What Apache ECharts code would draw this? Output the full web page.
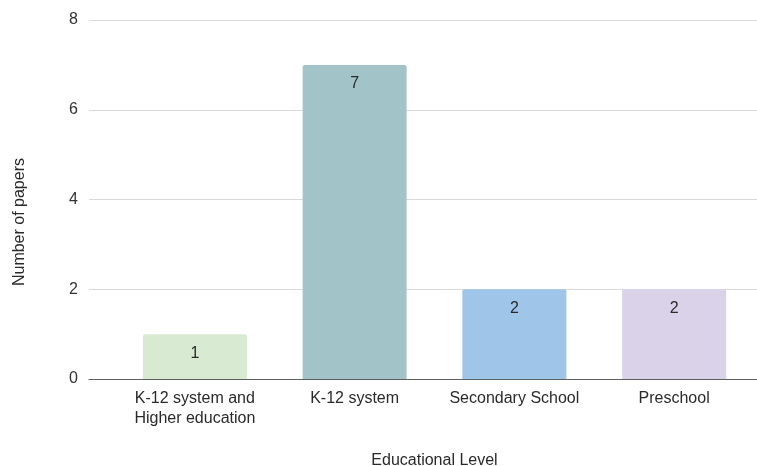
<!DOCTYPE html>
<html>
<head>
<meta charset="utf-8" />
<title>Educational Level</title>
<script src="https://cdn.jsdelivr.net/npm/echarts@6/dist/echarts.min.js"></script>
<style>
  html, body { margin: 0; padding: 0; background: #fff; }
  #main { width: 757px; height: 466px; }
</style>
</head>
<body>
<div id="main"></div>
<script>
var categories = ['K-12 system and\nHigher education', 'K-12 system', 'Secondary School', 'Preschool'];
var papers = [1, 7, 2, 2];
var barColors = ['#d9ead3', '#a2c4c9', '#9fc5e8', '#d9d2e9'];
var yTicks = [0, 2, 4, 6, 8];

var chart = echarts.init(document.getElementById('main'));
var font = '"Liberation Sans", Arial, sans-serif';

var option = {
    animation: false,
    textStyle: { fontFamily: font },
    grid: [
        // background grid: y labels + gridlines across the full width
        { left: 89, right: 0, top: 20, bottom: 87, outerBoundsMode: 'none', containLabel: false },
        // bars
        { left: 115, right: 3, top: 20, bottom: 87, outerBoundsMode: 'none', containLabel: false }
    ],
    xAxis: [
        {
            gridIndex: 0, type: 'value', min: 0, max: 1,
            axisLine: { show: true, onZero: false, lineStyle: { color: '#5f5f5f', width: 1 } },
            axisTick: { show: false }, axisLabel: { show: false }, splitLine: { show: false }
        },
        {
            gridIndex: 1, type: 'category', data: categories,
            axisLine: { show: false }, axisTick: { show: false },
            axisLabel: { color: '#2a2a2a', fontSize: 16, margin: 10, lineHeight: 20, interval: 0 },
            name: 'Educational Level', nameLocation: 'middle', nameGap: 74,
            nameTextStyle: { color: '#2a2a2a', fontSize: 16 }
        }
    ],
    yAxis: [
        {
            gridIndex: 0, type: 'value', min: yTicks[0], max: yTicks[yTicks.length - 1], interval: 2,
            axisLine: { show: false }, axisTick: { show: false },
            axisLabel: { color: '#333', fontSize: 16, margin: 11 },
            splitLine: { lineStyle: { color: '#d9d9d9', width: 1 } }
        },
        {
            gridIndex: 1, type: 'value', min: yTicks[0], max: yTicks[yTicks.length - 1], interval: 2,
            show: false, splitLine: { show: false }
        }
    ],
    graphic: [{
        type: 'text', left: 12, top: 158,
        style: { text: 'Number of papers', fill: '#2a2a2a', fontSize: 16, fontFamily: font },
        rotation: Math.PI / 2
    }],
    series: [{
        type: 'bar', xAxisIndex: 1, yAxisIndex: 1,
        barWidth: 104,
        data: papers.map(function (v, i) {
            return { value: v, itemStyle: { color: barColors[i], borderRadius: [2, 2, 0, 0] } };
        }),
        label: {
            show: true, position: 'insideTop', distance: 11,
            color: '#2a2a2a', fontSize: 16, fontFamily: font
        }
    }]
};
chart.setOption(option);
</script>
</body>
</html>
